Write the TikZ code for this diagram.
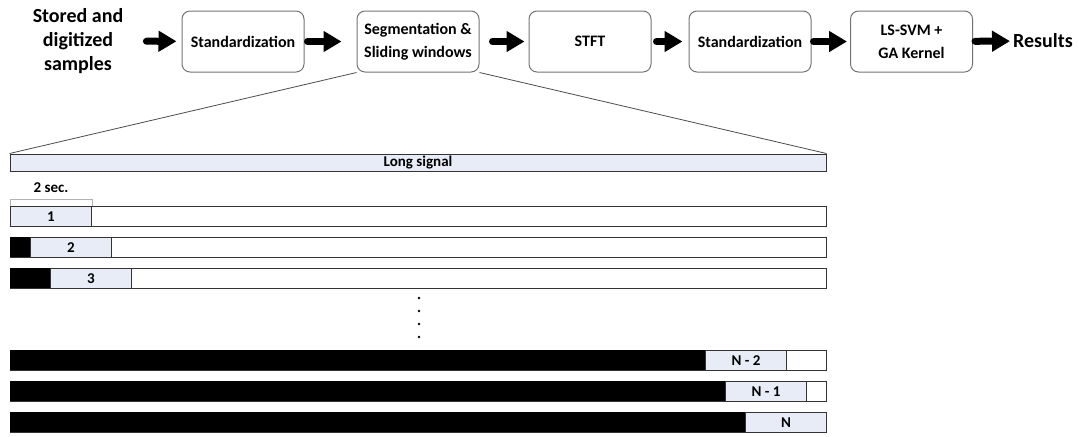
\documentclass[tikz,border=0pt]{standalone}
\usepackage{fontspec}
\setmainfont{Carlito}
\usetikzlibrary{arrows.meta}

\definecolor{winblue}{RGB}{231,236,247}

\tikzset{
  stage/.style={draw=gray!90!black, rounded corners=4pt, minimum width=61pt,
    minimum height=30.5pt, align=center,
    font=\bfseries\fontsize{8}{11.5}\selectfont},
  flow/.style={line width=3.5pt, line cap=round,
    -{Triangle[length=9pt,width=10pt]}},
  big/.style={font=\bfseries\fontsize{10}{12}\selectfont, align=center},
  small/.style={font=\bfseries\fontsize{7.5}{8}\selectfont},
  win/.style={draw=black!80, fill=winblue, minimum width=40.5pt,
    minimum height=10pt, inner sep=0pt, small},
}

\begin{document}
\begin{tikzpicture}[x=0.5pt, y=-0.5pt, line width=0.5pt]
  \useasboundingbox (0,0) rectangle (1079,436);

  % processing chain
  \node[big] (stored) at (78,41) {Stored and\\digitized\\samples};
  \node[stage] (std1) at (243,41.5) {Standardization};
  \node[stage] (seg) at (418,41.5) {Segmentation \&\\Sliding windows};
  \node[stage] (stft) at (590,41.5) {STFT};
  \node[stage] (std2) at (750,41.5) {Standardization};
  \node[stage] (svm) at (911.5,41.5) {LS-SVM +\\GA Kernel};
  \node[big, anchor=west] (res) at (1006,41) {Results};

  \draw[flow, shorten <=8pt, shorten >=2.5pt] (stored) -- (std1);
  \draw[flow, shorten <=1.5pt, shorten >=7.5pt] (std1) -- (seg);
  \draw[flow, shorten <=6.5pt, shorten >=2pt] (seg) -- (stft);
  \draw[flow, shorten <=2.5pt, shorten >=3pt] (stft) -- (std2);
  \draw[flow, shorten <=1pt, shorten >=1.5pt] (std2) -- (svm);
  \draw[flow, shorten <=1pt, shorten >=-2pt] (svm) -- (res);

  % zoom on the segmentation step
  \node[draw=black!80, fill=winblue, minimum width=408pt, minimum height=8.5pt,
    inner sep=0pt, small] (long) at (418,162.5) {Long signal};
  \draw[line width=0.4pt, black!70] (seg.south west) -- (long.north west);
  \draw[line width=0.4pt, black!70] (seg.south east) -- (long.north east);

  % sliding windows
  \foreach \y/\off/\lab/\nm in {206/0/1/r1, 237/20/2/r2, 268/40/3/r3,
      350/695/N - 2/rn2, 381/715/N - 1/rn1, 412/735/N/rn} {
    \draw[black!80] (10,\y) rectangle (826,\y+20);
    \fill (10,\y) rectangle (10+\off,\y+20);
    \node[win, anchor=north west] (\nm) at (10+\off,\y) {\lab};
  }

  \draw[gray!60, line width=0.4pt] (r1.north west) -- ++(0,-7) -| (r1.north east);
  \node[small, anchor=south] (sec) at ([yshift=3pt]r1.north) {2 sec.};

  \foreach \y in {298,311,324,337}
    \fill (419,\y) circle (0.7pt);
\end{tikzpicture}
\end{document}
